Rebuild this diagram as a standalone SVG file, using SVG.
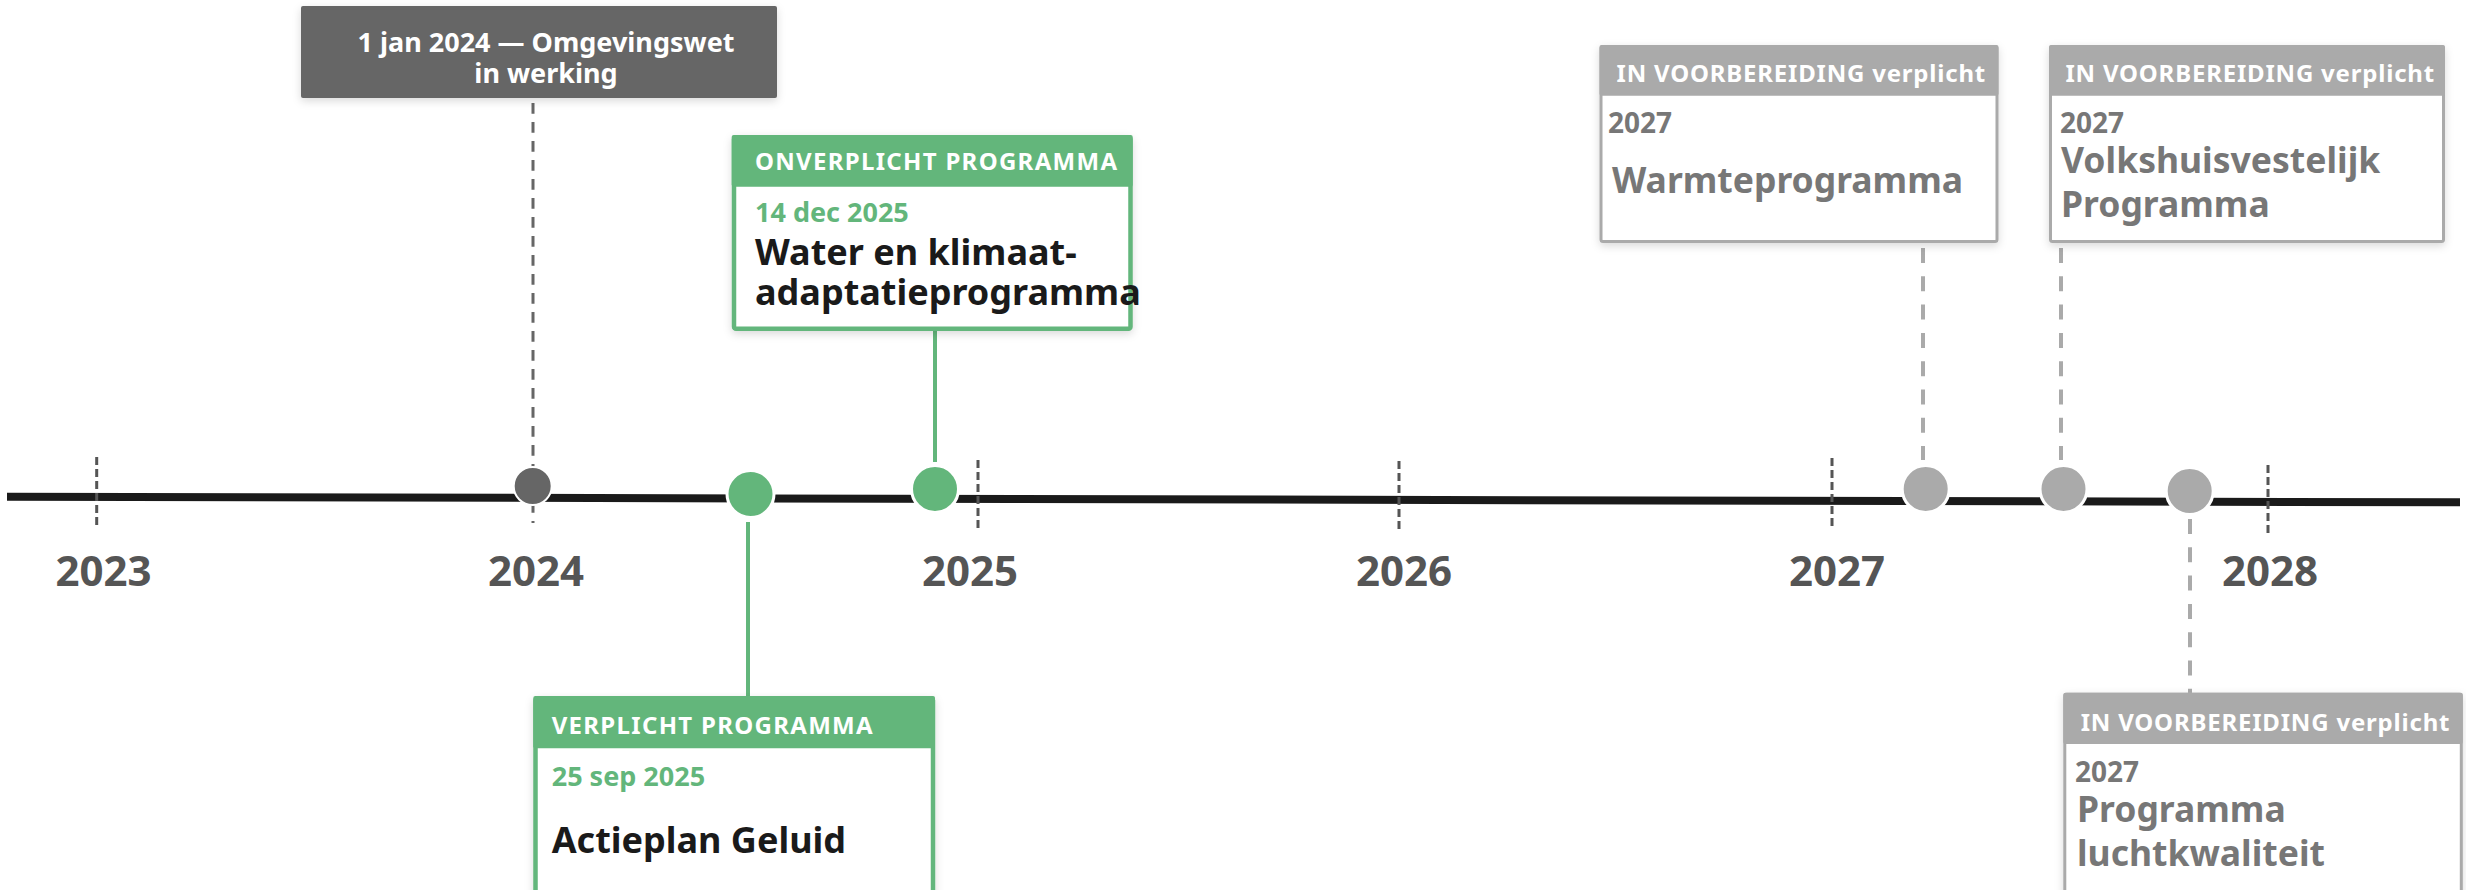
<svg xmlns="http://www.w3.org/2000/svg" width="2466" height="890" viewBox="0 0 2466 890">
<defs>
<filter id="sh" x="-10%" y="-10%" width="120%" height="130%">
<feDropShadow dx="0" dy="3" stdDeviation="4" flood-color="#000" flood-opacity="0.15"/>
</filter>
<style>
text{font-family:"Noto Sans","Open Sans","Liberation Sans",sans-serif;font-weight:700}
.yr{font-size:42px;fill:#555;text-anchor:middle}
.tick{stroke:#555;stroke-width:3;stroke-dasharray:8 4}
.hdr{font-size:24px;fill:#fff;letter-spacing:1.3px}
.hdrg{font-size:24px;fill:#fff;letter-spacing:0.8px}
.date-g{font-size:27px;fill:#63b67b}
.date-x{font-size:28px;fill:#777}
.ttl{font-size:36px;fill:#1a1a1a}
.ttlx{font-size:35.5px;fill:#777}
.gbox{fill:#fff;stroke:#63b67b;stroke-width:4.5}
.gband{fill:#63b67b}
.xbox{fill:#fff;stroke:#aaa;stroke-width:3}
.xband{fill:#aaa}
.cg{fill:#63b67b;stroke:#fff;stroke-width:3}
.cx{fill:#aaa;stroke:#fff;stroke-width:3}
</style>
</defs>
<rect width="2466" height="890" fill="#fff"/>

<g id="axis">
<line x1="7" y1="496.7" x2="2460" y2="502.3" stroke="#1a1a1a" stroke-width="8"/>
<line class="tick" x1="96.7" y1="457" x2="96.7" y2="528"/>
<line class="tick" x1="978" y1="460" x2="978" y2="532"/>
<line class="tick" x1="1399" y1="461" x2="1399" y2="532"/>
<line class="tick" x1="1832" y1="458" x2="1832" y2="530"/>
<line class="tick" x1="2268" y1="465" x2="2268" y2="537"/>
<text class="yr" x="103.5" y="586">2023</text>
<text class="yr" x="536" y="586">2024</text>
<text class="yr" x="970" y="586">2025</text>
<text class="yr" x="1404" y="586">2026</text>
<text class="yr" x="1837" y="586">2027</text>
<text class="yr" x="2270" y="586">2028</text>
</g>

<g id="connectors">
<line x1="533" y1="103" x2="533" y2="523" stroke="#666" stroke-width="3" stroke-dasharray="10.7 8.3"/>
<line x1="748" y1="522" x2="748" y2="697" stroke="#63b67b" stroke-width="4"/>
<line x1="935" y1="330" x2="935" y2="462" stroke="#63b67b" stroke-width="4"/>
<line x1="1923" y1="248" x2="1923" y2="460" stroke="#aaa" stroke-width="4" stroke-dasharray="15 13.3"/>
<line x1="2061" y1="248" x2="2061" y2="460" stroke="#aaa" stroke-width="4" stroke-dasharray="15 13.3"/>
<line x1="2190" y1="519" x2="2190" y2="693" stroke="#aaa" stroke-width="4" stroke-dasharray="15 13.3"/>
</g>

<g id="markers">
<circle cx="532.7" cy="486" r="19" fill="#666" stroke="#fff" stroke-width="2"/>
<circle class="cg" cx="750.5" cy="494" r="23.5"/>
<circle class="cg" cx="935" cy="489" r="23.5"/>
<circle class="cx" cx="1925.7" cy="489" r="23.5"/>
<circle class="cx" cx="2063.5" cy="489" r="23.5"/>
<circle class="cx" cx="2189.7" cy="491" r="23.5"/>
</g>

<g id="omgevingswet">
<rect x="301" y="6" width="476" height="92" rx="2" fill="#666" filter="url(#sh)"/>
<text x="546" y="51.7" font-size="27" fill="#fff" text-anchor="middle">1 jan 2024 — Omgevingswet</text>
<text x="546" y="83" font-size="27" fill="#fff" text-anchor="middle">in werking</text>
</g>

<g id="water">
<rect class="gbox" x="734" y="137.2" width="396.5" height="191.5" rx="2" filter="url(#sh)"/>
<rect class="gband" x="731.7" y="135" width="401" height="51.7" rx="2"/>
<text class="hdr" x="755" y="170">ONVERPLICHT PROGRAMMA</text>
<text class="date-g" x="755" y="221.7">14 dec 2025</text>
<text class="ttl" x="755" y="265">Water en klimaat-</text>
<text class="ttl" x="755" y="305">adaptatieprogramma</text>
</g>

<g id="actieplan">
<rect class="gbox" x="535.5" y="698.2" width="397.5" height="220" rx="2" filter="url(#sh)"/>
<rect class="gband" x="533.3" y="696" width="401.7" height="52.3" rx="2"/>
<text class="hdr" x="551.7" y="734">VERPLICHT PROGRAMMA</text>
<text class="date-g" x="551.7" y="786">25 sep 2025</text>
<text class="ttl" x="551.7" y="852.7">Actieplan Geluid</text>
</g>

<g id="warmte">
<rect class="xbox" x="1601" y="46.5" width="396" height="195" rx="2" filter="url(#sh)"/>
<rect class="xband" x="1599.5" y="45" width="399" height="50.7" rx="2"/>
<text class="hdrg" x="1616.5" y="81.7">IN VOORBEREIDING verplicht</text>
<text class="date-x" x="1608" y="133.3">2027</text>
<text class="ttlx" x="1612" y="192.7">Warmteprogramma</text>
</g>

<g id="volkshuisvesting">
<rect class="xbox" x="2050.5" y="46.5" width="393" height="195" rx="2" filter="url(#sh)"/>
<rect class="xband" x="2049" y="45" width="396" height="50.7" rx="2"/>
<text class="hdrg" x="2065.4" y="81.7">IN VOORBEREIDING verplicht</text>
<text class="date-x" x="2060" y="133.3">2027</text>
<text class="ttlx" x="2061" y="173.3">Volkshuisvestelijk</text>
<text class="ttlx" x="2061" y="216.7">Programma</text>
</g>

<g id="luchtkwaliteit">
<rect class="xbox" x="2064.8" y="694.2" width="396.5" height="220" rx="2" filter="url(#sh)"/>
<rect class="xband" x="2063.3" y="692.7" width="399.5" height="51.3" rx="2"/>
<text class="hdrg" x="2080.7" y="731">IN VOORBEREIDING verplicht</text>
<text class="date-x" x="2075" y="781.7">2027</text>
<text class="ttlx" x="2077" y="821.7">Programma</text>
<text class="ttlx" x="2077" y="866">luchtkwaliteit</text>
</g>
</svg>
